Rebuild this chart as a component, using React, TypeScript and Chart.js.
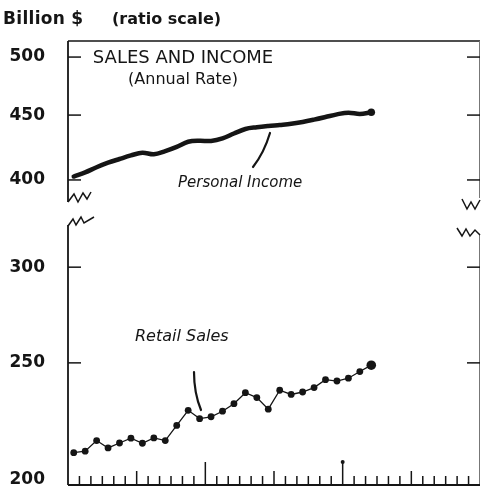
import React, { useEffect, useRef } from "react";
import { Chart, registerables } from "chart.js";

Chart.register(...registerables);

// ---- data ----
const years = ["1961", "1962", "1963"];
const monthNames = ["Jan", "Feb", "Mar", "Apr", "May", "Jun", "Jul", "Aug", "Sep", "Oct", "Nov", "Dec"];
const months: string[] = years.flatMap((y) => monthNames.map((m) => `${m} ${y}`));

const retailSales = [
  210.7, 211.3, 215.6, 212.6, 214.6, 216.6, 214.5, 216.7, 215.6, 221.9, 228.4, 224.8, 225.6, 228.0,
  231.3, 236.2, 234.0, 228.9, 237.3, 235.4, 236.5, 238.5, 242.1, 241.5, 242.8, 245.9, 248.9,
];
const personalIncome = [
  402.5, 405.5, 409.3, 412.7, 415.5, 418.2, 420.3, 419.1, 421.5, 424.7, 428.7, 429.5, 429.3, 431.3,
  435.2, 438.8, 440.2, 441.2, 442.0, 442.9, 444.4, 446.3, 448.4, 450.6, 452.0, 450.9, 452.3,
];
const upperTicks = [400, 450, 500];
const lowerTicks = [200, 250, 300];

const INK = "#151515";
const FONT = '"DejaVu Sans", sans-serif';

const decor = {
  id: "decor",
  beforeDatasetsDraw(chart: any) {
    const { ctx, chartArea: ca, scales } = chart;
    const xs = scales.x;
    const yT = scales.yTop;
    const yB = scales.yBottom;
    const L = ca.left;
    const R = ca.right;
    const T = ca.top;
    const B = ca.bottom;
    const ub = yT.bottom;
    const lt = yB.top;
    const seg = (x1: number, y1: number, x2: number, y2: number, w: number, c = INK) => {
      ctx.beginPath();
      ctx.lineWidth = w;
      ctx.strokeStyle = c;
      ctx.moveTo(x1, y1);
      ctx.lineTo(x2, y2);
      ctx.stroke();
    };
    const poly = (pts: number[][], ox: number, oy: number, w: number) => {
      ctx.beginPath();
      ctx.lineWidth = w;
      ctx.strokeStyle = INK;
      pts.forEach((p, i) => (i ? ctx.lineTo(ox + p[0], oy + p[1]) : ctx.moveTo(ox + p[0], oy + p[1])));
      ctx.stroke();
    };
    ctx.save();
    ctx.lineCap = "butt";
    // frame
    seg(L, T, R, T, 1.5);
    seg(L, T, L, ub, 1.8);
    seg(L, lt, L, B, 1.8);
    seg(R - 0.5, T, R - 0.5, ub - 4, 1, "#777");
    seg(R - 0.5, lt + 10, R - 0.5, B, 1, "#777");
    seg(L, B, R, B, 2);
    // y tick marks, inside, both sides
    upperTicks.forEach((v) => {
      const y = yT.getPixelForValue(v);
      seg(L, y, L + 13, y, 1.5);
      seg(R - 13, y, R, y, 1.5);
    });
    lowerTicks.forEach((v) => {
      const y = yB.getPixelForValue(v);
      if (y > B - 10) return;
      seg(L, y, L + 13, y, 1.5);
      seg(R - 13, y, R, y, 1.5);
    });
    // month ticks
    for (let k = 1; k < months.length; k++) {
      const xb = (xs.getPixelForValue(k - 1) + xs.getPixelForValue(k)) / 2;
      const h = k % 12 === 0 ? 23 : k % 6 === 0 ? 14 : 9;
      seg(xb, B, xb, B - h, 1.5);
      if (k === 24) {
        ctx.beginPath();
        ctx.fillStyle = INK;
        ctx.arc(xb, B - h, 2, 0, Math.PI * 2);
        ctx.fill();
      }
    }
    // axis break zigzags
    poly([[0, 0], [6, -8], [10, 0], [15, -9], [19, -3], [23, -10]], L, ub, 1.5);
    poly([[0, 1], [5, -6], [8, 0], [13, -8], [16, -2], [26, -8]], L, lt, 1.5);
    poly([[-18, -3], [-13, 7], [-9, 0], [-5, 7], [0, -2]], R, ub, 1.5);
    poly([[-23, 3], [-18, 11], [-14, 4], [-10, 11], [-5, 5], [0, 10]], R, lt, 1.5);
    ctx.restore();
  },
  afterDatasetsDraw(chart: any) {
    const { ctx, chartArea: ca } = chart;
    const L = ca.left;
    const T = ca.top;
    ctx.save();
    ctx.fillStyle = INK;
    ctx.textBaseline = "alphabetic";
    // page title
    ctx.textAlign = "left";
    ctx.font = `bold 17px ${FONT}`;
    (ctx as any).letterSpacing = "0.3px";
    ctx.fillText("Billion $", 3, 24);
    (ctx as any).letterSpacing = "0px";
    ctx.font = `bold 16px ${FONT}`;
    ctx.fillText("(ratio scale)", 112, 24);
    // chart title
    ctx.textAlign = "center";
    ctx.font = `18px ${FONT}`;
    ctx.fillText("SALES AND INCOME", L + 115, T + 22);
    ctx.font = `16px ${FONT}`;
    ctx.fillText("(Annual Rate)", L + 115, T + 43);
    // series labels
    ctx.textAlign = "left";
    ctx.font = `italic 15px ${FONT}`;
    ctx.fillText("Personal Income", L + 110, T + 146);
    ctx.font = `italic 16px ${FONT}`;
    ctx.fillText("Retail Sales", L + 67, T + 300);
    // leader lines
    ctx.strokeStyle = INK;
    ctx.lineCap = "round";
    ctx.lineWidth = 2.2;
    ctx.beginPath();
    ctx.moveTo(L + 185, T + 126);
    ctx.quadraticCurveTo(L + 196, T + 112, L + 202, T + 92);
    ctx.stroke();
    ctx.beginPath();
    ctx.moveTo(L + 126, T + 331);
    ctx.quadraticCurveTo(L + 126, T + 352, L + 133, T + 369);
    ctx.stroke();
    ctx.restore();
  },
};

export default function App() {
  const ref = useRef<HTMLCanvasElement>(null);
  useEffect(() => {
    const canvas = ref.current!;
    const tickFont = { family: FONT, size: 17, weight: "bold" as const };
    const fitY = (w: number) => (s: any) => {
      s.width = w;
      s.paddingTop = 0;
      s.paddingBottom = 0;
      s.paddingLeft = 0;
      s.paddingRight = 0;
    };
    const chart = new Chart(canvas, {
      type: "line",
      data: {
        labels: months,
        datasets: [
          {
            label: "Personal Income",
            data: personalIncome,
            yAxisID: "yTop",
            borderColor: INK,
            backgroundColor: INK,
            borderWidth: 4.5,
            borderCapStyle: "round",
            borderJoinStyle: "round",
            tension: 0.35,
            pointRadius: personalIncome.map((_, i) => (i === personalIncome.length - 1 ? 3.8 : 0)),
            pointBackgroundColor: INK,
            pointBorderWidth: 0,
          },
          {
            label: "Retail Sales",
            data: retailSales,
            yAxisID: "yBottom",
            borderColor: INK,
            backgroundColor: INK,
            borderWidth: 1.3,
            tension: 0,
            pointRadius: retailSales.map((_, i) => (i === retailSales.length - 1 ? 4.8 : 3.4)),
            pointBackgroundColor: INK,
            pointBorderWidth: 0,
          },
        ],
      },
      options: {
        responsive: false,
        animation: false,
        devicePixelRatio: 1,
        events: [],
        layout: { autoPadding: false, padding: { left: 0, top: 41, right: 1, bottom: 6 } },
        plugins: { legend: { display: false }, tooltip: { enabled: false }, title: { display: false } },
        scales: {
          x: {
            type: "category",
            offset: true,
            display: false,
            grid: { display: false, offset: true },
            afterFit: (s: any) => {
              s.height = 0;
              s.paddingLeft = 0;
              s.paddingRight = 0;
            },
          },
          yBottom: {
            type: "logarithmic",
            position: "left",
            stack: "y",
            stackWeight: 260,
            min: 198.1,
            max: 325.1,
            afterBuildTicks: (s: any) => {
              s.ticks = lowerTicks.map((v) => ({ value: v }));
            },
            afterFit: fitY(68),
            ticks: { callback: (v: any) => String(v), font: tickFont, color: INK, padding: 23, autoSkip: false },
            grid: { display: false, drawTicks: false },
            border: { display: false },
          },
          yGap: {
            type: "linear",
            position: "left",
            stack: "y",
            stackWeight: 23,
            afterFit: fitY(68),
            ticks: { display: false },
            grid: { display: false, drawTicks: false },
            border: { display: false },
          },
          yTop: {
            type: "logarithmic",
            position: "left",
            stack: "y",
            stackWeight: 161,
            min: 384.3,
            max: 514.8,
            afterBuildTicks: (s: any) => {
              s.ticks = upperTicks.map((v) => ({ value: v }));
            },
            afterFit: fitY(68),
            ticks: { callback: (v: any) => String(v), font: tickFont, color: INK, padding: 23, autoSkip: false },
            grid: { display: false, drawTicks: false },
            border: { display: false },
          },
        },
      } as any,
      plugins: [decor],
    });
    return () => chart.destroy();
  }, []);
  return (
    <div style={{ position: "absolute", left: 0, top: 0, width: 481, height: 491, background: "#fff" }}>
      <canvas ref={ref} width={481} height={491} style={{ display: "block", width: 481, height: 491 }} />
    </div>
  );
}
